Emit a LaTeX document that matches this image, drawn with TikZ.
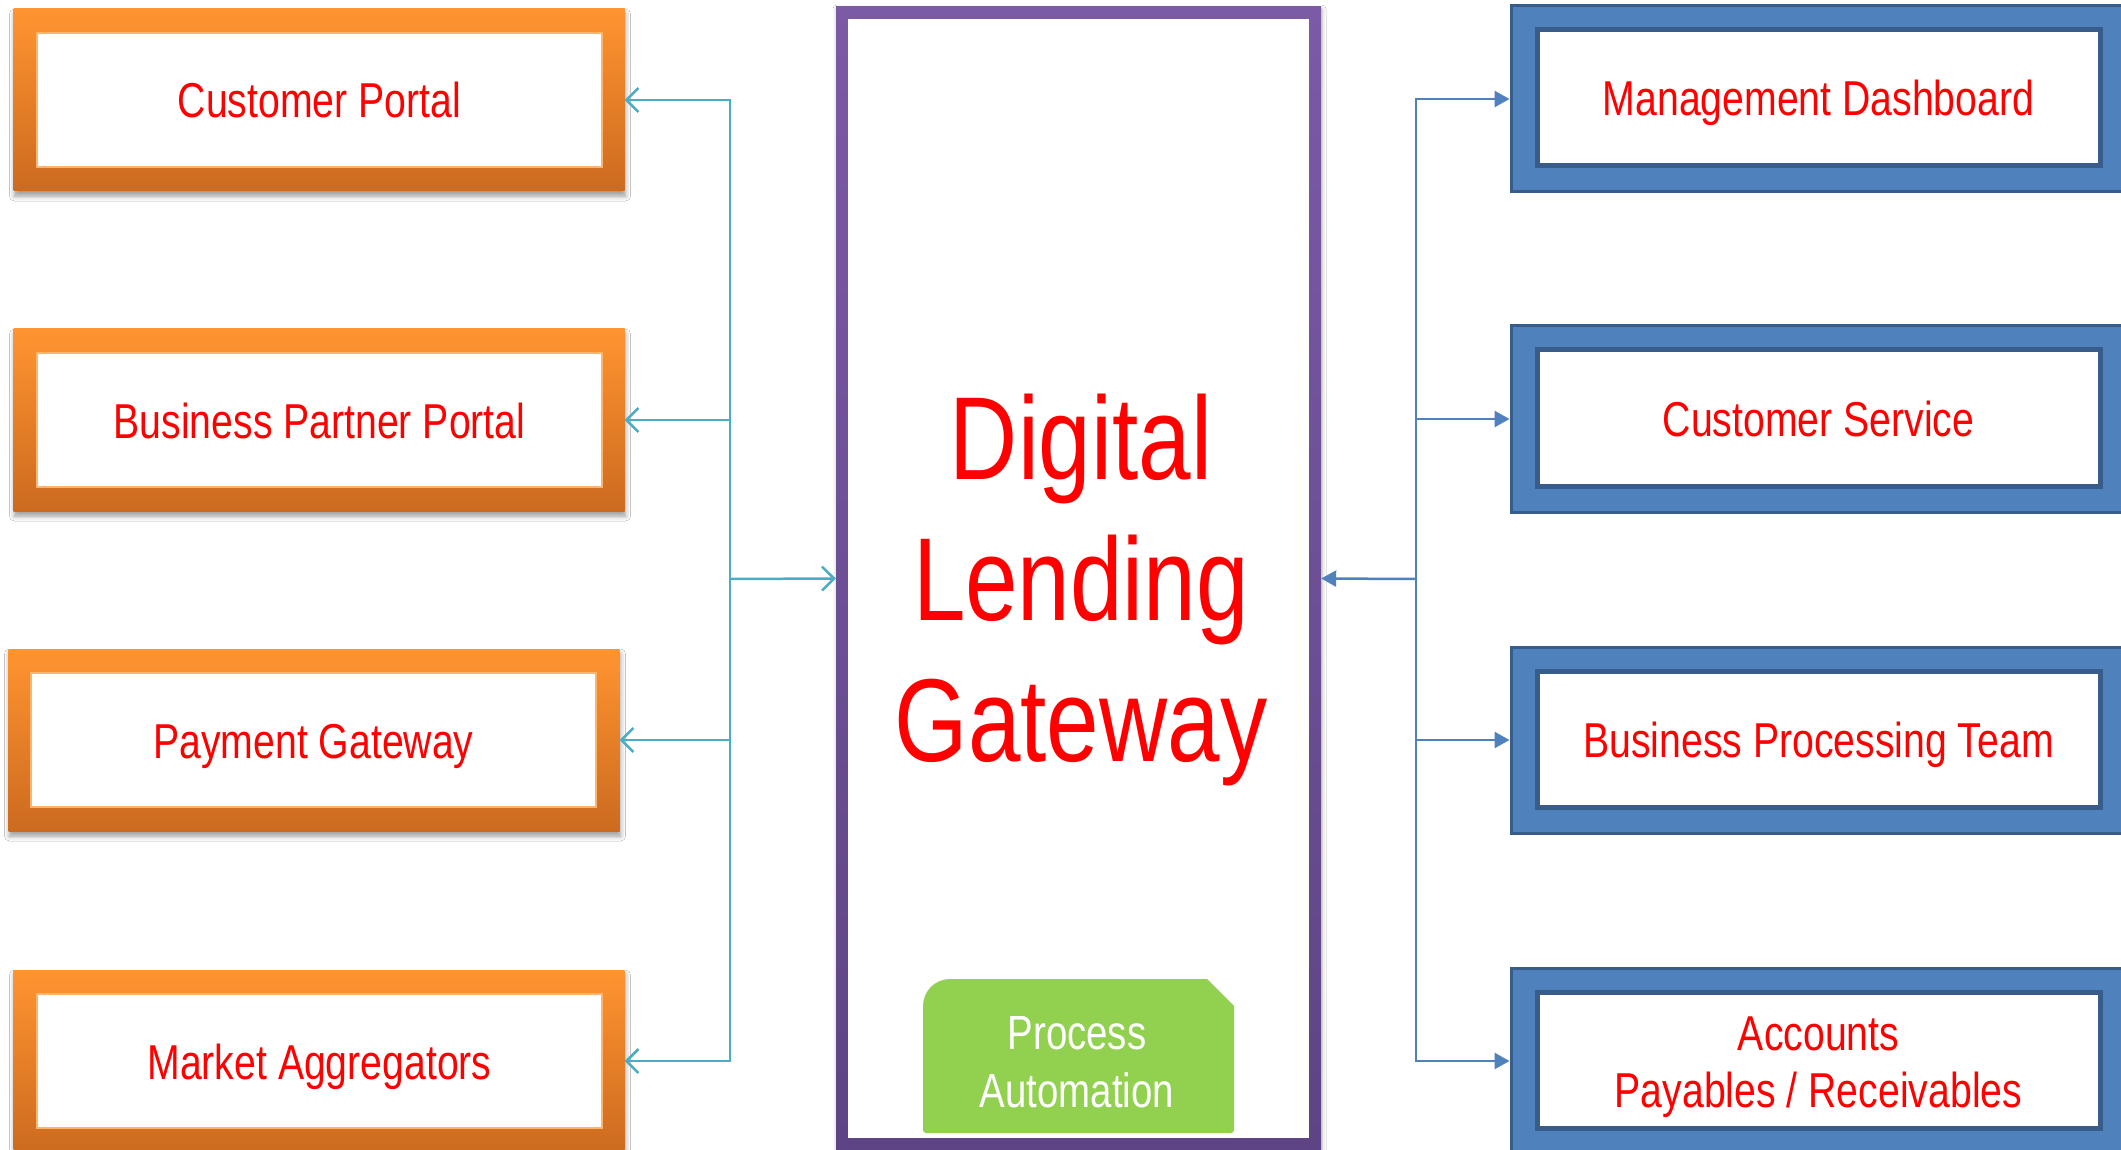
\documentclass[tikz,border=0pt]{standalone}
\usepackage{fontspec}
\setmainfont{Liberation Sans}[FakeStretch=0.8]
\usetikzlibrary{arrows.meta,shadows,shadows.blur}
\definecolor{orTop}{HTML}{FF9430}
\definecolor{orBot}{HTML}{CC6A1F}
\definecolor{puTop}{HTML}{7B5AA6}
\definecolor{puBot}{HTML}{5E4484}
\definecolor{blFill}{HTML}{4F81BD}
\definecolor{blDark}{HTML}{385D8A}
\definecolor{cyLine}{HTML}{4BACC6}
\definecolor{paGreen}{HTML}{92D050}
\definecolor{txtRed}{HTML}{FF0000}
\begin{document}
\begin{tikzpicture}[x=1pt,y=-1pt,
  orframe/.style={minimum width=611pt, minimum height=182pt, inner sep=0pt,
    top color=orTop, bottom color=orBot, draw=none,
    blur shadow={shadow xshift=1pt, shadow yshift=-5pt, shadow blur radius=5pt, shadow opacity=40}},
  orinner/.style={minimum width=565pt, minimum height=134pt, inner sep=0pt,
    fill=white, draw=orTop!70, line width=1.2pt, text=txtRed,
    font=\fontsize{49}{58}\selectfont, align=center, text height=36pt, text depth=0pt},
  blframe/.style={minimum width=615pt, minimum height=186pt, inner sep=0pt,
    fill=blFill, draw=blDark, line width=3pt},
  blinner/.style={minimum width=563pt, minimum height=136pt, inner sep=0pt,
    fill=white, draw=blDark, line width=5pt, text=txtRed,
    font=\fontsize{49}{57}\selectfont, align=center},
  bltext/.style={text height=36pt, text depth=0pt},
  puframe/.style={minimum width=485pt, minimum height=1143pt, inner sep=0pt,
    top color=puTop, bottom color=puBot, draw=none,
    blur shadow={shadow xshift=1pt, shadow yshift=-2pt, shadow blur radius=4pt, shadow opacity=30}},
  puinner/.style={minimum width=461pt, minimum height=1119pt, inner sep=0pt, fill=white},
  cyconn/.style={draw=cyLine, line width=2.5pt, -{Straight Barb[length=12pt,width=24pt,line width=2.5pt]}},
  blconn/.style={draw=blFill, line width=2.5pt, -{Triangle[length=15pt,width=16pt]}}
]
\useasboundingbox (0,0) rectangle (2121,1150);
\fill[white] (0,0) rectangle (2121,1150);

% left orange boxes
\node[orframe] (cpf) at (319,100) {};
\node[orinner] (cp) at (319.5,100) {Customer Portal};
\node[orframe] (bppf) at (319,420) {};
\node[orinner] (bpp) at (319.5,420) {Business Partner Portal};
\node[orframe] (pgf) at (314,740) {};
\node[orinner] (pg) at (313.5,740) {Payment Gateway};
\node[orframe] (maf) at (319,1061) {};
\node[orinner] (ma) at (319.5,1061) {Market Aggregators};

% central purple box
\node[puframe] (dlgf) at (1078.5,578.5) {};
\node[puinner] (dlgi) at (1078.5,578.5) {};
\node[text=txtRed, font=\fontsize{118}{141}\selectfont, align=center, inner sep=0pt] (dlg) at (1081,590) {Digital\\Lending\\Gateway};

% process automation
\fill[paGreen] (1078,1133) [rounded corners=3pt] -- (923,1133) [rounded corners=27pt] -- (923,979) [sharp corners] -- (1207,979) -- (1234,1006) [rounded corners=3pt] -- (1234,1133) [sharp corners] -- cycle;
\node[text=white, font=\fontsize{48}{58}\selectfont, align=center, inner sep=0pt] (pa) at (1077,1062) {Process\\Automation};

% right blue boxes
\node[blframe] (mdf) at (1818.5,99) {};
\node[blinner, bltext] (md) at (1818.5,98) {Management Dashboard};
\node[blframe] (csf) at (1818.5,419) {};
\node[blinner, bltext] (cs) at (1818.5,418) {Customer Service};
\node[blframe] (bptf) at (1818.5,740) {};
\node[blinner, bltext] (bpt) at (1818.5,739) {Business Processing Team};
\node[blframe] (apf) at (1818.5,1061) {};
\node[blinner] (apbox) at (1818.5,1060) {};
\node[text=txtRed, font=\fontsize{49}{57}\selectfont, align=center, inner sep=0pt] (ap) at (1818.5,1067) {Accounts\\Payables / Receivables};

% connectors
\coordinate (lhub) at (730,579);
\coordinate (rhub) at (1416,579);
\draw[cyconn] (lhub) -- (dlgf.west);
\draw[cyconn] (lhub) |- (cpf.east);
\draw[cyconn] (lhub) |- (bppf.east);
\draw[cyconn] (lhub) |- (pgf.east);
\draw[cyconn] (lhub) |- (maf.east);
\draw[blconn] (rhub) -- (dlgf.east);
\draw[blconn] (rhub) |- (mdf.west);
\draw[blconn] (rhub) |- (csf.west);
\draw[blconn] (rhub) |- (bptf.west);
\draw[blconn] (rhub) |- (apf.west);
\end{tikzpicture}
\end{document}
